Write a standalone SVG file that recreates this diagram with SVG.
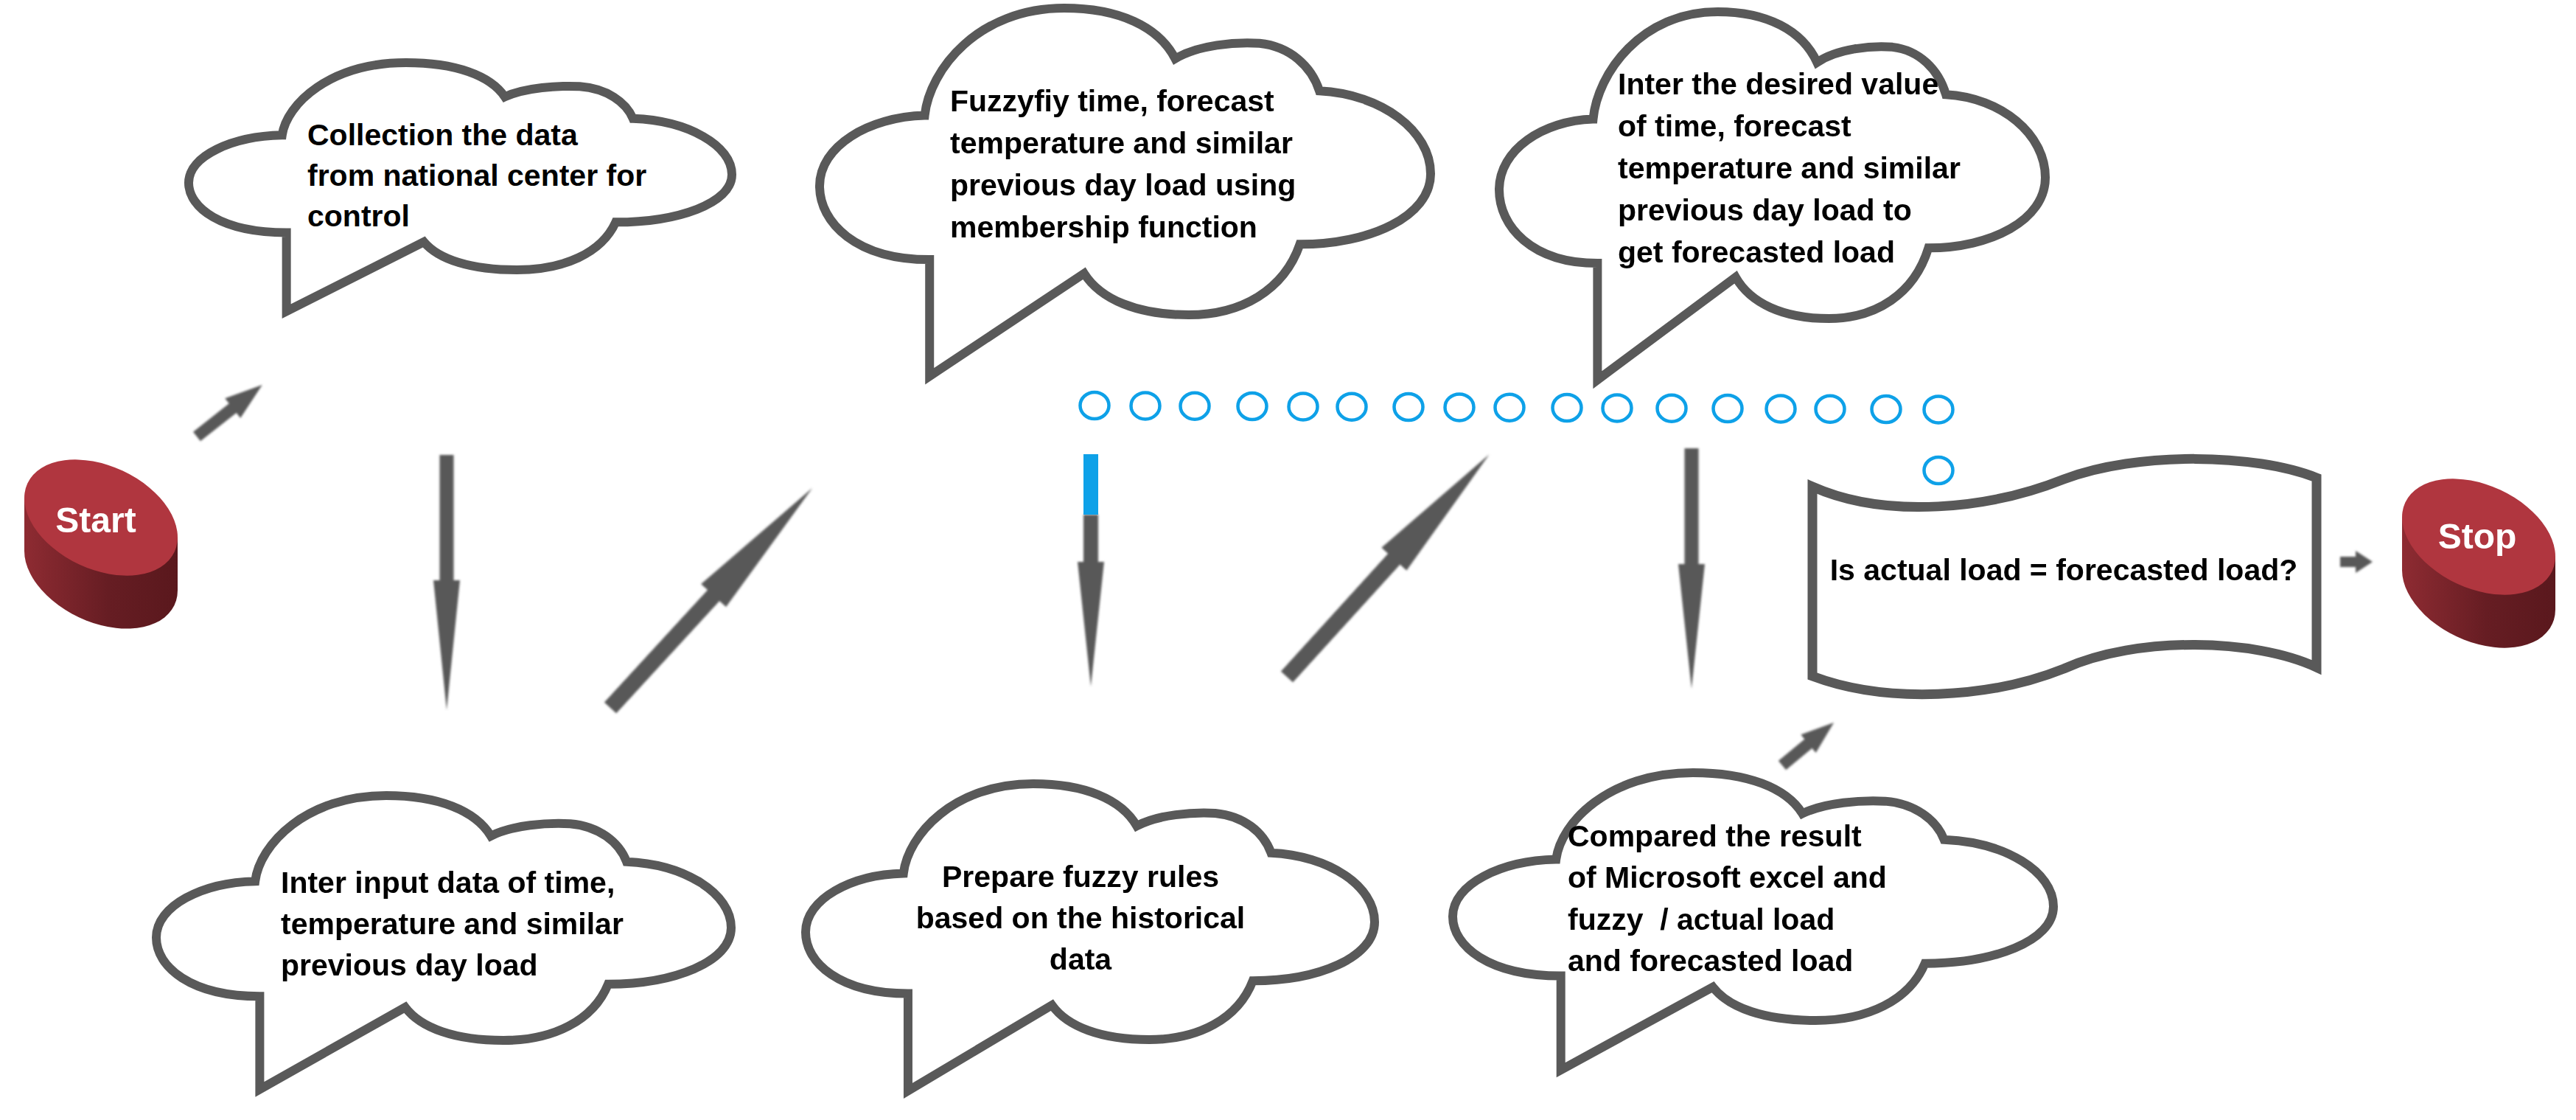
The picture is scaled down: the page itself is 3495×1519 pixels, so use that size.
<svg xmlns="http://www.w3.org/2000/svg" width="3495" height="1519" viewBox="0 0 3495 1519">
<style>
.cloud{fill:#fff;stroke:#595959;stroke-width:12;stroke-linejoin:miter}
.t{font-family:"Liberation Sans",Arial,sans-serif;font-weight:bold;font-size:41px;fill:#000}
.tw{font-family:"Liberation Sans",Arial,sans-serif;font-weight:bold;font-size:48px;fill:#fff;text-anchor:middle}
.arr{fill:#595959}
.ring{fill:none;stroke:#0ea1e8;stroke-width:4.5}
.face{fill:#b0363f}
.side{fill:url(#sideGrad)}
</style>
<defs>
<linearGradient id="sideGrad" x1="0" y1="0" x2="1" y2="0">
<stop offset="0" stop-color="#8e2b32"/>
<stop offset="0.55" stop-color="#661d23"/>
<stop offset="1" stop-color="#5a181d"/>
</linearGradient>
<filter id="soft" x="-50%" y="-20%" width="200%" height="140%">
<feGaussianBlur stdDeviation="1.4"/>
</filter>
</defs>
<rect width="3495" height="1519" fill="#fff"/>

<g id="connectors">
<g filter="url(#soft)">
<polygon class="arr" transform="translate(267,592) rotate(-38.2)" points="0,-8 62,-8 62,-17 113,0 62,17 62,8 0,8"/>
<polygon class="arr" points="596.5,617 615.5,617 615.5,787 624,787 606,963 588,787 596.5,787"/>
<polygon class="arr" transform="translate(828,960) rotate(-47.4)" points="0,-11 207,-11 207,-23 405,0 207,23 207,11 0,11"/>
<polygon class="arr" points="1470,698 1490,698 1490,762 1498,762 1480,931 1462,762 1470,762"/>
<polygon class="arr" transform="translate(1746,918) rotate(-47.7)" points="0,-11 216,-11 216,-23 408,0 216,23 216,11 0,11"/>
<polygon class="arr" points="2285.5,608 2304.5,608 2304.5,765 2313,765 2295,934 2277,765 2285.5,765"/>
<polygon class="arr" transform="translate(2418,1038) rotate(-39.6)" points="0,-8 46,-8 46,-16 91,0 46,16 46,8 0,8"/>
<polygon class="arr" points="3175,755 3196,755 3196,747 3219,762 3196,777 3196,769 3175,769"/>
</g>
<rect x="1470" y="616" width="20" height="82" fill="#0ea1e8"/>
<g class="ring">
<ellipse cx="1485" cy="550" rx="19.5" ry="18"/>
<ellipse cx="1554" cy="550.4" rx="19.5" ry="18"/>
<ellipse cx="1621" cy="550.7" rx="19.5" ry="18"/>
<ellipse cx="1699" cy="551" rx="19.5" ry="18"/>
<ellipse cx="1768" cy="551.4" rx="19.5" ry="18"/>
<ellipse cx="1834" cy="551.7" rx="19.5" ry="18"/>
<ellipse cx="1911" cy="552" rx="19.5" ry="18"/>
<ellipse cx="1980" cy="552.4" rx="19.5" ry="18"/>
<ellipse cx="2048" cy="552.7" rx="19.5" ry="18"/>
<ellipse cx="2126" cy="553" rx="19.5" ry="18"/>
<ellipse cx="2194" cy="553.4" rx="19.5" ry="18"/>
<ellipse cx="2268" cy="553.7" rx="19.5" ry="18"/>
<ellipse cx="2344" cy="554" rx="19.5" ry="18"/>
<ellipse cx="2416" cy="554.4" rx="19.5" ry="18"/>
<ellipse cx="2483" cy="554.7" rx="19.5" ry="18"/>
<ellipse cx="2559" cy="555" rx="19.5" ry="18"/>
<ellipse cx="2630" cy="555.4" rx="19.5" ry="18"/>
<ellipse cx="2630" cy="638" rx="19.5" ry="18"/>
</g>
</g>

<g id="start">
<path class="side" d="M33,675.5 L33,747.5 A110,70 25 0 0 241,800.5 L241,728.5 Z"/>
<ellipse class="face" cx="137" cy="702" rx="110" ry="70" transform="rotate(25 137 702)"/>
<text class="tw" x="130" y="722">Start</text>
</g>

<g id="cloud1">
<path class="cloud" vector-effect="non-scaling-stroke" transform="translate(256,85) scale(0.737,0.281)" d="M180,820 C60,820 0,700 0,580 C0,450 80,355 172,350 C180,200 260,0 400,0 C490,0 555,60 582,165 C620,120 680,110 720,115 C770,125 805,190 818,270 C920,280 1000,400 1000,540 C1000,680 900,770 786,770 C760,920 690,1000 604,1000 C520,1000 460,950 433,865 L180,1200 Z"/>
<text class="t" x="417" y="197">Collection the data</text>
<text class="t" x="417" y="252">from national center for</text>
<text class="t" x="417" y="307">control</text>
</g>

<g id="cloud2">
<path class="cloud" vector-effect="non-scaling-stroke" transform="translate(1112,11) scale(0.829,0.416)" d="M180,820 C60,820 0,700 0,580 C0,450 80,355 172,350 C180,200 260,0 400,0 C490,0 555,60 582,165 C620,120 680,110 720,115 C770,125 805,190 818,270 C920,280 1000,400 1000,540 C1000,680 900,770 786,770 C760,920 690,1000 604,1000 C520,1000 460,950 433,865 L180,1200 Z"/>
<text class="t" x="1289" y="151">Fuzzyfiy time, forecast</text>
<text class="t" x="1289" y="208">temperature and similar</text>
<text class="t" x="1289" y="265">previous day load using</text>
<text class="t" x="1289" y="322">membership function</text>
</g>

<g id="cloud3">
<path class="cloud" vector-effect="non-scaling-stroke" transform="translate(2034,16) scale(0.741,0.416)" d="M180,820 C60,820 0,700 0,580 C0,450 80,355 172,350 C180,200 260,0 400,0 C490,0 555,60 582,165 C620,120 680,110 720,115 C770,125 805,190 818,270 C920,280 1000,400 1000,540 C1000,680 900,770 786,770 C760,920 690,1000 604,1000 C520,1000 460,950 433,865 L180,1200 Z"/>
<text class="t" x="2195" y="128">Inter the desired value</text>
<text class="t" x="2195" y="185">of time, forecast</text>
<text class="t" x="2195" y="242">temperature and similar</text>
<text class="t" x="2195" y="299">previous day load to</text>
<text class="t" x="2195" y="356">get forecasted load</text>
</g>

<g id="cloud4">
<path class="cloud" vector-effect="non-scaling-stroke" transform="translate(212,1079) scale(0.78,0.332)" d="M180,820 C60,820 0,700 0,580 C0,450 80,355 172,350 C180,200 260,0 400,0 C490,0 555,60 582,165 C620,120 680,110 720,115 C770,125 805,190 818,270 C920,280 1000,400 1000,540 C1000,680 900,770 786,770 C760,920 690,1000 604,1000 C520,1000 460,950 433,865 L180,1200 Z"/>
<text class="t" x="381" y="1211">Inter input data of time,</text>
<text class="t" x="381" y="1267">temperature and similar</text>
<text class="t" x="381" y="1323">previous day load</text>
</g>

<g id="cloud5">
<path class="cloud" vector-effect="non-scaling-stroke" transform="translate(1093,1063) scale(0.772,0.347)" d="M180,820 C60,820 0,700 0,580 C0,450 80,355 172,350 C180,200 260,0 400,0 C490,0 555,60 582,165 C620,120 680,110 720,115 C770,125 805,190 818,270 C920,280 1000,400 1000,540 C1000,680 900,770 786,770 C760,920 690,1000 604,1000 C520,1000 460,950 433,865 L180,1200 Z"/>
<text class="t" x="1466" y="1203" text-anchor="middle">Prepare fuzzy rules</text>
<text class="t" x="1466" y="1259" text-anchor="middle">based on the historical</text>
<text class="t" x="1466" y="1315" text-anchor="middle">data</text>
</g>

<g id="cloud6">
<path class="cloud" vector-effect="non-scaling-stroke" transform="translate(1971,1048) scale(0.815,0.336)" d="M180,820 C60,820 0,700 0,580 C0,450 80,355 172,350 C180,200 260,0 400,0 C490,0 555,60 582,165 C620,120 680,110 720,115 C770,125 805,190 818,270 C920,280 1000,400 1000,540 C1000,680 900,770 786,770 C760,920 690,1000 604,1000 C520,1000 460,950 433,865 L180,1200 Z"/>
<text class="t" x="2127" y="1148">Compared the result</text>
<text class="t" x="2127" y="1204">of Microsoft excel and</text>
<text class="t" x="2127" y="1261" xml:space="preserve" style="white-space:pre">fuzzy  / actual load</text>
<text class="t" x="2127" y="1317">and forecasted load</text>
</g>

<g id="decision">
<path fill="#fff" stroke="#595959" stroke-width="13" stroke-linejoin="miter" d="M2459,660 C2560,705 2700,690 2800,650 C2900,612 3060,615 3143,648 L3143,905 C3060,866 2900,862 2800,907 C2700,947 2560,955 2459,917 Z"/>
<text class="t" x="2800" y="787" text-anchor="middle">Is actual load = forecasted load?</text>
</g>

<g id="stop">
<path class="side" d="M3259,701.5 L3259,773.5 A110,70 25 0 0 3467,826.5 L3467,754.5 Z"/>
<ellipse class="face" cx="3363" cy="728" rx="110" ry="70" transform="rotate(25 3363 728)"/>
<text class="tw" x="3361" y="744">Stop</text>
</g>
</svg>
